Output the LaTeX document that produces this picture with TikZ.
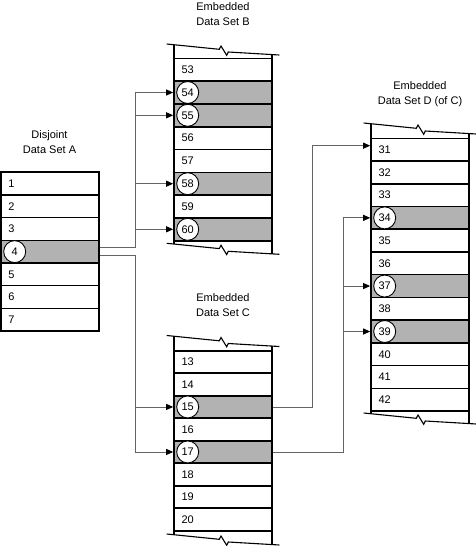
\documentclass[tikz,border=0pt]{standalone}
\usepackage{fontspec}
\setmainfont{Liberation Sans}
\usetikzlibrary{arrows.meta}
\definecolor{shade}{RGB}{178,178,178}
\definecolor{connc}{RGB}{100,100,100}
\newcommand\tornline[2]{\draw[tornstyle] (#1,#2) -- ++(52.6,5.3) -- ++(1.7,-3.3) -- ++(5.7,9.3) -- ++(1.6,-3.3) -- ++(51,3);}
\begin{document}
\begin{tikzpicture}[x=1pt,y=-1pt,
  rowbox/.style={draw=black, line width=1.6pt, text width=83pt, inner xsep=7.5pt, inner ysep=0pt, align=left, font=\fontsize{11}{13}\selectfont},
  shaded/.style={rowbox, fill=shade},
  circ/.style={circle, draw=black, fill=white, line width=0.9pt, minimum size=22pt, inner sep=0pt, font=\fontsize{11}{13}\selectfont},
  tornstyle/.style={draw=black, line width=1.1pt},
  lbl/.style={align=center, inner sep=0pt, font=\fontsize{11}{15}\selectfont},
  conn/.style={draw=connc, line width=0.9pt, -{Triangle[length=7pt,width=6pt,color=black]}},
  plainconn/.style={draw=connc, line width=0.9pt}]
\fill[white] (0,0) rectangle (476,546);
\useasboundingbox (0,0) rectangle (476,546);

% labels (base = baseline of the last line)
\node[lbl, anchor=base] (la) at (49.5,153.3) {Disjoint\\Data Set A};
\node[lbl, anchor=base] (lb) at (223,25) {Embedded\\Data Set B};
\node[lbl, anchor=base] (lc) at (223,316.5) {Embedded\\Data Set C};
\node[lbl, anchor=base] (ld) at (420,104) {Embedded\\Data Set D (of C)};

% walls and torn edges
\tornline{166.7}{44}
\tornline{166.7}{243.3}
\draw[tornstyle] (174,44.7) -- (174,244);
\draw[tornstyle] (272,54.6) -- (272,253.9);
\tornline{166.7}{335.5}
\tornline{166.7}{534}
\draw[tornstyle] (174,336.2) -- (174,534.7);
\draw[tornstyle] (272,346.1) -- (272,544.6);
\tornline{363.7}{123}
\tornline{363.7}{413}
\draw[tornstyle] (371,123.7) -- (371,413.7);
\draw[tornstyle] (469,133.6) -- (469,423.6);

% column A
\foreach \n in {1,2,3,5,6,7}
  \node[rowbox, minimum height=22.67pt] (a\n) at (50,{172.3+(\n-1)*22.67+11.33}) {\n};
\foreach \n in {4}{
  \node[shaded, minimum height=22.67pt] (a\n) at (50,{172.3+(\n-1)*22.67+11.33}) {};
  \node[circ] (ac\n) at ([xshift=14.5pt]a\n.west) {\n};}

% column B
\foreach \n in {53,56,57,59}
  \node[rowbox, minimum height=22.8pt] (b\n) at (223,{58.3+(\n-53)*22.8+11.4}) {\n};
\foreach \n in {54,55,58,60}{
  \node[shaded, minimum height=22.8pt] (b\n) at (223,{58.3+(\n-53)*22.8+11.4}) {};
  \node[circ] (bc\n) at ([xshift=14.5pt]b\n.west) {\n};}

% column C
\foreach \n in {13,14,16,18,19,20}
  \node[rowbox, minimum height=22.5pt] (c\n) at (223,{350.7+(\n-13)*22.5+11.25}) {\n};
\foreach \n in {15,17}{
  \node[shaded, minimum height=22.5pt] (c\n) at (223,{350.7+(\n-13)*22.5+11.25}) {};
  \node[circ] (cc\n) at ([xshift=14.5pt]c\n.west) {\n};}

% column D
\foreach \n in {31,32,33,35,36,38,40,41,42}
  \node[rowbox, minimum height=22.73pt] (d\n) at (420,{138.3+(\n-31)*22.73+11.37}) {\n};
\foreach \n in {34,37,39}{
  \node[shaded, minimum height=22.73pt] (d\n) at (420,{138.3+(\n-31)*22.73+11.37}) {};
  \node[circ] (dc\n) at ([xshift=14.5pt]d\n.west) {\n};}

% connectors A -> B
\draw[conn] ([yshift=4pt]a4.east) -| ([xshift=-38pt]b54.west) -- (b54.west);
\foreach \n in {55,58,60}
  \draw[conn] ([xshift=-38pt]b\n.west) -- (b\n.west);
% connectors A -> C
\draw[conn] ([yshift=-4.3pt]a4.east) -| ([xshift=-37.5pt]c17.west) -- (c17.west);
\draw[conn] ([xshift=-37.5pt]c15.west) -- (c15.west);
% connectors C -> D
\draw[conn] (c15.east) -| ([xshift=-57.7pt,yshift=4pt]d31.west) -- ([yshift=4pt]d31.west);
\draw[conn] (c17.east) -| ([xshift=-27pt]d39.west) -- (d39.west);
\draw[plainconn] ([xshift=-27pt]d39.west) -- ([xshift=-27pt]d34.west);
\foreach \n in {34,37}
  \draw[conn] ([xshift=-27pt]d\n.west) -- (d\n.west);
\end{tikzpicture}
\end{document}
